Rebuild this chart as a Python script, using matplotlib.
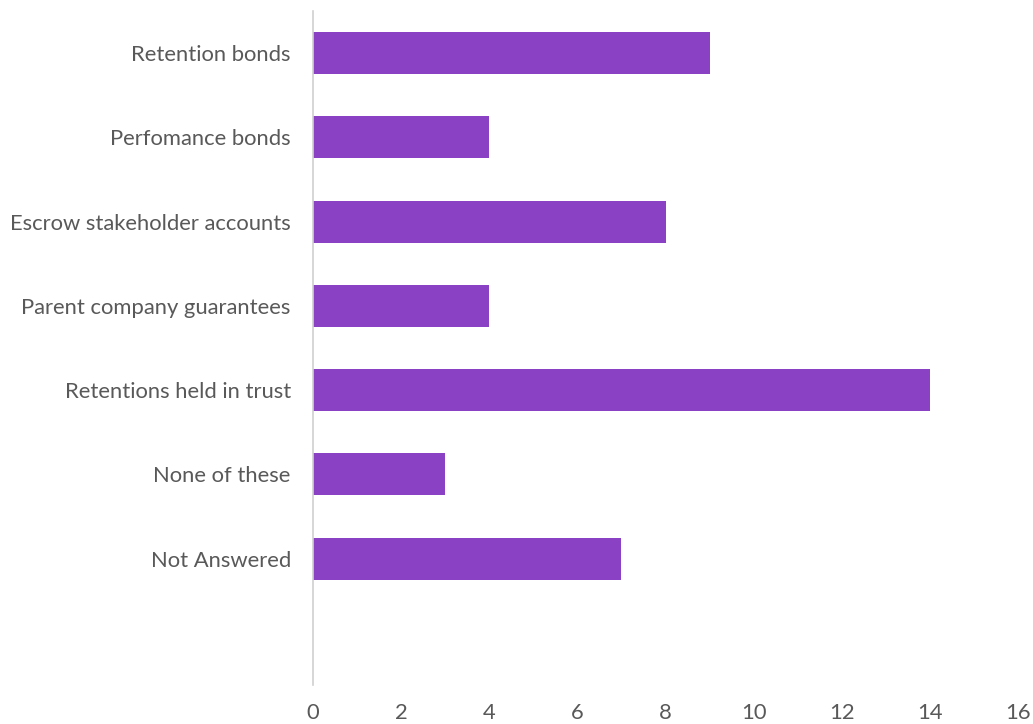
import matplotlib
matplotlib.use("Agg")
import matplotlib.pyplot as plt

categories = ["Retention bonds", "Perfomance bonds", "Escrow stakeholder accounts",
              "Parent company guarantees", "Retentions held in trust", "None of these",
              "Not Answered"]
counts = [9, 4, 8, 4, 14, 3, 7]
xticks = [0, 2, 4, 6, 8, 10, 12, 14, 16]

plt.rcParams['font.family'] = ['Lato', 'DejaVu Sans']

fig = plt.figure(figsize=(10.33, 7.24), dpi=100)
ax = fig.add_axes([313 / 1033, 1 - 685 / 724, (1018 - 313) / 1033, (685 - 11) / 724])

ax.barh(range(len(categories)), counts, height=0.5, color="#8B41C4")
ax.set_ylim(7.5, -0.5)
ax.set_xlim(0, 16)
ax.set_xticks(xticks)
ax.set_yticks(range(len(categories)))
ax.set_yticklabels(categories)

for s in ["top", "right", "bottom"]:
    ax.spines[s].set_visible(False)
ax.spines["left"].set_color("#D0D0D0")
ax.spines["left"].set_linewidth(1.2)

ax.tick_params(axis="y", length=0, pad=16, labelsize=15.8, labelcolor="#595959")
ax.tick_params(axis="x", length=0, pad=13, labelsize=15.8, labelcolor="#595959")

fig.savefig("out.png", dpi=100)
